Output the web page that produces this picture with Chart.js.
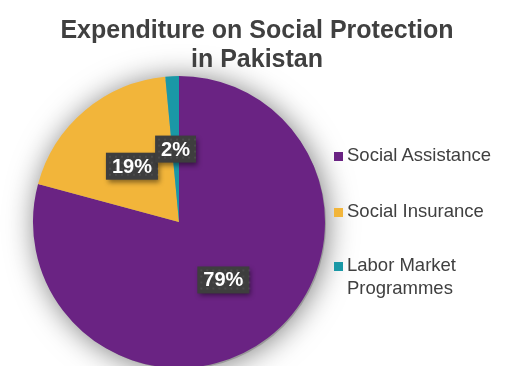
<!DOCTYPE html>
<html>
<head>
<meta charset="utf-8">
<script src="https://cdn.jsdelivr.net/npm/chart.js@4"></script>
<style>
  html, body { margin: 0; padding: 0; background: #fff; }
  #wrap { position: relative; width: 514px; height: 366px; overflow: hidden; }
  #title { position: absolute; left: 0; top: 15px; width: 514px; text-align: center; font-family: "Liberation Sans", Arial, sans-serif; font-weight: bold; font-size: 25px; line-height: 29px; color: #404040; }
  #legend { position: absolute; left: 334px; top: 143px; font-family: "Liberation Sans", Arial, sans-serif; font-size: 18.5px; color: #404040; }
  .item { position: absolute; left: 0; white-space: nowrap; line-height: 23px; }
  .sw { position: absolute; left: 0; top: 9px; width: 9px; height: 9px; }
  .txt { position: absolute; left: 13px; top: 0; }
</style>
</head>
<body>
<div id="wrap">
  <canvas id="chart" width="514" height="366"></canvas>
  <div id="title"></div>
  <div id="legend"></div>
</div>
<script>
const categories = ["Social Assistance", "Social Insurance", "Labor Market Programmes"];
const shares = [79.2, 19.3, 1.5];
const sliceColors = ["#6A2383", "#F2B53A", "#1A98A6"];
const titleLines = ["Expenditure on Social Protection", "in Pakistan"];

document.getElementById("title").innerHTML = titleLines.join("<br>");

// legend built from the same arrays
const legendTops = [0, 56, 110];
const legendEl = document.getElementById("legend");
categories.forEach((name, i) => {
  const item = document.createElement("div");
  item.className = "item";
  item.style.top = legendTops[i] + "px";
  const label = name === "Labor Market Programmes" ? "Labor Market<br>Programmes" : name;
  item.innerHTML = `<span class="sw" style="background:${sliceColors[i]}"></span><span class="txt">${label}</span>`;
  legendEl.appendChild(item);
});

// soft grey glow under the pie
const pieShadow = {
  id: "pieShadow",
  beforeDatasetsDraw(chart) {
    const arc = chart.getDatasetMeta(0).data[0];
    if (!arc) return;
    const ctx = chart.ctx;
    ctx.save();
    ctx.beginPath();
    ctx.arc(arc.x + 2, arc.y + 2, arc.outerRadius - 1, 0, Math.PI * 2);
    ctx.shadowColor = "rgba(0,0,0,0.55)";
    ctx.shadowBlur = 30;
    ctx.shadowOffsetX = 0;
    ctx.shadowOffsetY = 0;
    ctx.fillStyle = "#999";
    ctx.fill();
    ctx.restore();
  },
};

// dark boxed percentage labels
const boxLabels = {
  id: "boxLabels",
  afterDatasetsDraw(chart) {
    const ctx = chart.ctx;
    const meta = chart.getDatasetMeta(0);
    const total = shares.reduce((a, b) => a + b, 0);
    ctx.save();
    ctx.font = "bold 20px 'Liberation Sans', Arial, sans-serif";
    ctx.textAlign = "center";
    ctx.textBaseline = "middle";
    meta.data.forEach((arc, i) => {
      const pos = arc.getCenterPoint();
      const text = Math.round(shares[i] / total * 100) + "%";
      const w = ctx.measureText(text).width + 12;
      const h = 27;
      const x = pos.x - w / 2, y = pos.y - h / 2;
      ctx.save();
      ctx.shadowColor = "rgba(0,0,0,0.45)";
      ctx.shadowBlur = 5;
      ctx.shadowOffsetX = 2;
      ctx.shadowOffsetY = 3;
      ctx.fillStyle = "#3E3E3E";
      ctx.fillRect(x, y, w, h);
      ctx.restore();
      // faint dot texture
      ctx.fillStyle = "rgba(255,255,255,0.07)";
      for (let dx = 3; dx < w; dx += 6) {
        for (let dy = 3; dy < h; dy += 6) {
          ctx.fillRect(x + dx, y + dy, 2, 2);
        }
      }
      ctx.fillStyle = "#fff";
      ctx.fillText(text, pos.x, pos.y + 1);
    });
    ctx.restore();
  },
};

new Chart(document.getElementById("chart"), {
  type: "pie",
  data: {
    labels: categories,
    datasets: [{
      data: shares,
      backgroundColor: sliceColors,
      borderWidth: 0,
      radius: 146,
    }],
  },
  options: {
    responsive: false,
    animation: false,
    events: [],
    layout: { padding: { left: 0, right: 156, top: 78, bottom: 0 } },
    plugins: {
      legend: { display: false },
      tooltip: { enabled: false },
      title: { display: false },
    },
  },
  plugins: [pieShadow, boxLabels],
});
</script>
</body>
</html>
